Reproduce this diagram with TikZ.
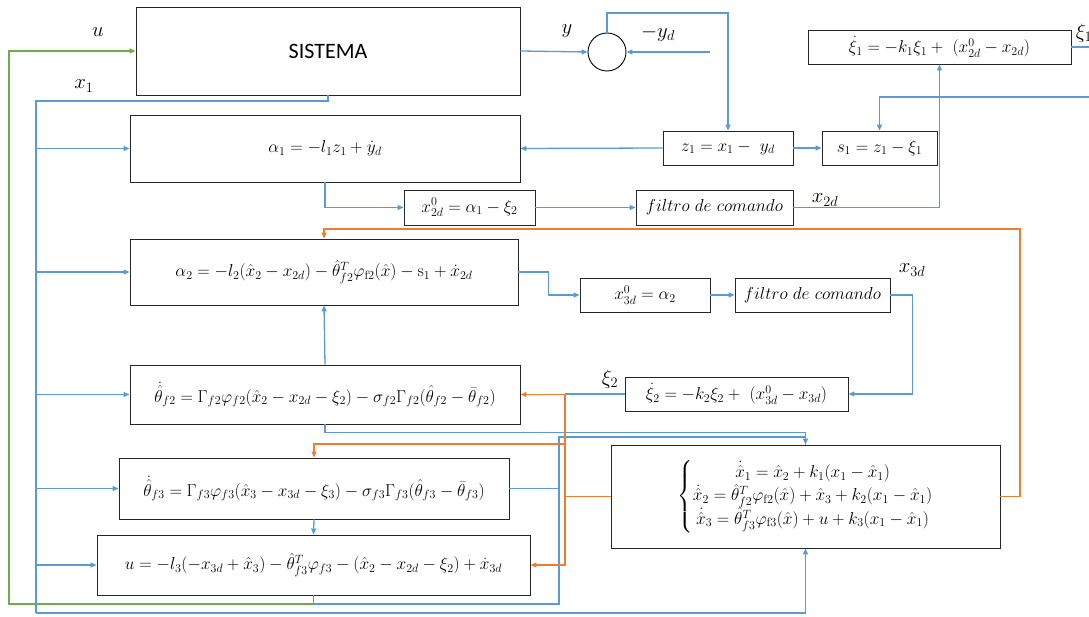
\documentclass[tikz,border=0pt]{standalone}
\usepackage{amsmath}
\usepackage{fontspec}
\newfontfamily\carlito{Carlito}
\usetikzlibrary{arrows.meta}
\definecolor{cblue}{HTML}{5B9BD5}
\definecolor{corange}{HTML}{ED7D31}
\definecolor{cgreen}{HTML}{70AD47}
\begin{document}
\begin{tikzpicture}[x=1pt,y=-1pt,
  blk/.style 2 args={draw=black!85, line width=0.9pt, minimum width=#1, minimum height=#2, inner sep=0pt, font=\fontsize{17.5}{21}\selectfont},
  lbl/.style={inner sep=0pt, font=\fontsize{20}{22}\selectfont},
  bl/.style={draw=cblue, line width=1.3pt},
  blt/.style={draw=cblue, line width=2.4pt},
  orl/.style={draw=corange, line width=1.3pt},
  grl/.style={draw=cgreen, line width=1.3pt},
  arr/.style={-{Triangle[length=6pt,width=5pt]}}]
\useasboundingbox (0,0) rectangle (1089,617);
% blocks
\node[blk={384pt}{88pt}] (sis) at (328,51) {\carlito\fontsize{22}{24}\selectfont SISTEMA};
\node[draw=black, line width=0.9pt, circle, minimum size=38pt, inner sep=0pt] (sum) at (607,52) {};
\node[blk={130pt}{34pt}] (z1) at (728,148) {$z_1 = x_1 -\ y_d$};
\node[blk={115pt}{34pt}] (s1) at (879.5,148) {$s_1 = z_1 - \xi_1$};
\node[blk={263pt}{34pt}] (xi1) at (939.5,47) {$\dot\xi_1 = -k_1\xi_1 +\ (x_{2d}^0 - x_{2d})$};
\node[blk={390pt}{67pt}] (a1) at (325,148.5) {$\alpha_1 = -l_1 z_1 + \dot y_d$};
\node[blk={131pt}{35pt}] (x2d0) at (469.5,207.5) {$x_{2d}^0 = \alpha_1 - \xi_2$};
\node[blk={157pt}{35pt}] (f1) at (714.5,207.5) {$filtro\ de\ comando$};
\node[blk={388pt}{66pt}] (a2) at (324,272) {$\alpha_2 = -l_2(\hat x_2 - x_{2d}) - \hat\theta_{f2}^T\varphi_{\mathrm{f2}}(\hat x) - \mathrm{s}_1 + \dot x_{2d}$};
\node[blk={130pt}{34pt}] (x3d0) at (645,295) {$x_{3d}^0 = \alpha_2$};
\node[blk={155pt}{34pt}] (f2) at (812.5,295) {$filtro\ de\ comando$};
\node[blk={223pt}{34pt}] (xi2) at (736.5,394) {$\dot\xi_2 = -k_2\xi_2 +\ (x_{3d}^0 - x_{3d})$};
\node[blk={390pt}{59pt}] (t2) at (325,394.5) {$\dot{\hat\theta}_{f2} = \Gamma_{f2}\varphi_{f2}(\hat x_2 - x_{2d} - \xi_2) - \sigma_{f2}\Gamma_{f2}(\hat\theta_{f2} - \bar\theta_{f2})$};
\node[blk={390pt}{61pt}] (t3) at (314,488.5) {$\dot{\hat\theta}_{f3} = \Gamma_{f3}\varphi_{f3}(\hat x_3 - x_{3d} - \xi_3) - \sigma_{f3}\Gamma_{f3}(\hat\theta_{f3} - \bar\theta_{f3})$};
\node[blk={433pt}{60pt}] (u) at (313.5,565) {$u = -l_3(-x_{3d} + \hat x_3) - \hat\theta_{f3}^T\varphi_{f3} - (\hat x_2 - x_{2d} - \xi_2) + \dot x_{3d}$};
\node[blk={389pt}{103pt}] (obs) at (805.5,496.5) {\def\arraystretch{1.05}$\left\{\begin{array}{@{}c@{}}
  \dot{\hat x}_1 = \hat x_2 + k_1(x_1 - \hat x_1)\\
  \dot{\hat x}_2 = \hat\theta_{f2}^T\varphi_{\mathrm{f2}}(\hat x) + \hat x_3 + k_2(x_1 - \hat x_1)\\
  \dot{\hat x}_3 = \hat\theta_{f3}^T\varphi_{\mathrm{f3}}(\hat x) + u + k_3(x_1 - \hat x_1)
  \end{array}\right.$};
% labels
\node[lbl] (lu) at (98,32) {$u$};
\node[lbl] (lx1) at (84,86) {$x_1$};
\node[lbl] (ly) at (567,31) {$y$};
\node[lbl] (lyd) at (658,33) {$-y_d$};
\node[lbl] (lxi1) at (1084,33) {$\xi_1$};
\node[lbl] (lx2d) at (825,200) {$x_{2d}$};
\node[lbl] (lx3d) at (912,270) {$x_{3d}$};
\node[lbl] (lxi2) at (610,379) {$\xi_2$};
% coordinates
\coordinate (xb) at (36,101);
\coordinate (xbb) at (36,613);
\coordinate (gl) at (9,604);
\coordinate (yd) at (710,52);
\coordinate (st) at (728,13);
\coordinate (xr) at (1089,47);
\coordinate (xr2) at (1089,97);
\coordinate (ub) at (559,604);
\coordinate (jv) at (559,437);
\coordinate (oj) at (565,496.5);
\coordinate (o3) at (565,444);
\coordinate (otr) at (1020,229);
% green u
\draw[grl,arr] (u.south) |- (gl) |- (sis.west);
% x1 bus
\draw[blt] (sis.south) |- (xb) -- (xbb);
\draw[bl,arr] (xbb) -| (obs.south);
\draw[bl,arr] (xb |- a1.west) -- (a1.west);
\draw[bl,arr] (xb |- a2.west) -- (a2.west);
\draw[bl,arr] (xb |- t2.west) -- (t2.west);
\draw[bl,arr] (xb |- t3.west) -- (t3.west);
\draw[bl,arr] (xb |- u.west) -- (u.west);
% top loop
\draw[bl,arr] (sis.east) -- (sum.west);
\draw[bl,arr] (yd) -- (sum.east);
\draw[bl,arr] (sum.north) |- (st) -- (z1.north);
\draw[bl,arr] (z1.west) -- (a1.east);
\draw[bl,arr] (z1.east) -- (s1.west);
\draw[bl] (xi1.east) -- (xr);
\draw[bl,arr] (xr2) -| (s1.north);
\draw[bl,arr] (a1.south) |- (x2d0.west);
\draw[bl,arr] (x2d0.east) -- (f1.west);
\draw[bl,arr] (f1.east) -| (xi1.south);
% second stage
\draw[bl,arr] (a2.east) -- ++(30,0) |- (x3d0.west);
\draw[bl,arr] (x3d0.east) -- (f2.west);
\draw[bl,arr] (f2.east) -- ++(22,0) |- (xi2.east);
\draw[bl] (xi2.west) -- (oj |- xi2.west);
\draw[bl,arr] (t2.north) -- (a2.south);
\draw[bl,arr] (t3.south) -- (u.north);
% observer inputs
\draw[bl,arr] (t2.south) -- ++(0,8) -| (obs.north);
\draw[bl] (u.south) |- (ub) -- (jv) -| (obs.north);
\draw[bl] (t3.east) -- (t3.east -| ub);
% orange
\draw[orl] (obs.west) -- (oj);
\draw[orl,arr] (oj) |- (t2.east);
\draw[orl,arr] (oj) |- (u.east);
\draw[orl,arr] (o3) -| (t3.north);
\draw[orl,arr] (obs.east) -| (otr) -| (a2.north);
\end{tikzpicture}
\end{document}
